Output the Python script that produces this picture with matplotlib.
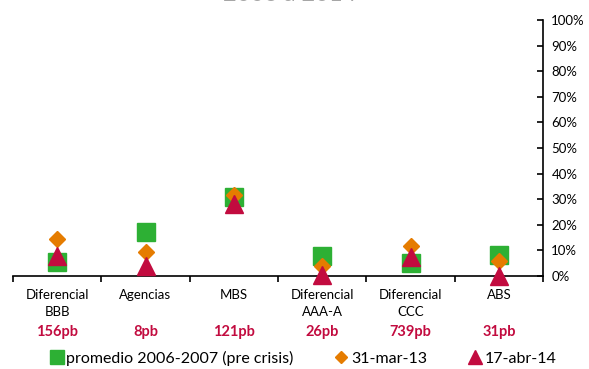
import matplotlib.pyplot as plt
import matplotlib.transforms as mtransforms
import numpy as np

plt.rcParams['font.family'] = ['Lato', 'DejaVu Sans']

categorias = ["Diferencial\nBBB", "Agencias", "MBS", "Diferencial\nAAA-A", "Diferencial\nCCC", "ABS"]
diferenciales = ["156pb", "8pb", "121pb", "26pb", "739pb", "31pb"]

# percentiles (%) por fecha
promedio_pre = [5.5, 17, 31, 8, 5, 8.3]
mar_13 = [14.5, 9.5, 31.5, 4, 11.7, 6]
abr_14 = [8, 4, 28, 0.5, 7.5, 0]

verde = "#2DB034"
naranja = "#E57C00"
rojo = "#C20B3F"

fig = plt.figure(figsize=(5.89, 3.69), dpi=100)
ax = fig.add_axes([13 / 589, 1 - 276 / 369, 530 / 589, 256 / 369])

x = np.arange(len(categorias))
ax.plot(x, promedio_pre, "s", color=verde, ms=12.5, clip_on=False, zorder=3,
        label="promedio 2006-2007 (pre crisis)")
ax.plot(x, mar_13, "D", color=naranja, ms=7.8, clip_on=False, zorder=4,
        label="31-mar-13")
ax.plot(x, abr_14, "^", color=rojo, ms=12.5, clip_on=False, zorder=5,
        label="17-abr-14")

ax.set_xlim(-0.5, len(categorias) - 0.5)
ax.set_ylim(0, 100)

# eje vertical a la derecha
for s in ["left", "top"]:
    ax.spines[s].set_visible(False)
for s in ["right", "bottom"]:
    ax.spines[s].set_linewidth(1.2)
ax.yaxis.tick_right()
ax.set_yticks(np.arange(0, 101, 10))
ax.set_yticklabels([f"{v}%" for v in range(0, 101, 10)], fontsize=9.5)
ax.tick_params(axis="y", direction="in", length=4, width=1.2, pad=6)

# separadores de categorias
ax.set_xticks(np.arange(-0.5, len(categorias), 1))
ax.set_xticklabels([])
ax.tick_params(axis="x", direction="out", length=4, width=1.2)

trans = mtransforms.blended_transform_factory(ax.transData, fig.transFigure)
for i, (cat, dif) in enumerate(zip(categorias, diferenciales)):
    ax.text(i, 1 - 289 / 369, cat, transform=trans, ha="center", va="top",
            fontsize=9.5, linespacing=1.45)
    ax.text(i, 1 - 332 / 369, dif, transform=trans, ha="center", va="center",
            fontsize=10.5, fontweight="bold", color=rojo)

# titulo recortado en el borde superior
fig.text(290 / 589, 1 - 1 / 369, "2006 a 2014", ha="center", va="baseline",
         fontsize=17, color="#A6A6A6")

fig.legend(loc="center", bbox_to_anchor=(0.5 + 8 / 589, 1 - 358 / 369), ncol=3,
           frameon=False, fontsize=11.5, handletextpad=0.1, columnspacing=2.5,
           handlelength=1.0, borderaxespad=0, markerscale=0.75)

fig.savefig("out.png", dpi=100)
